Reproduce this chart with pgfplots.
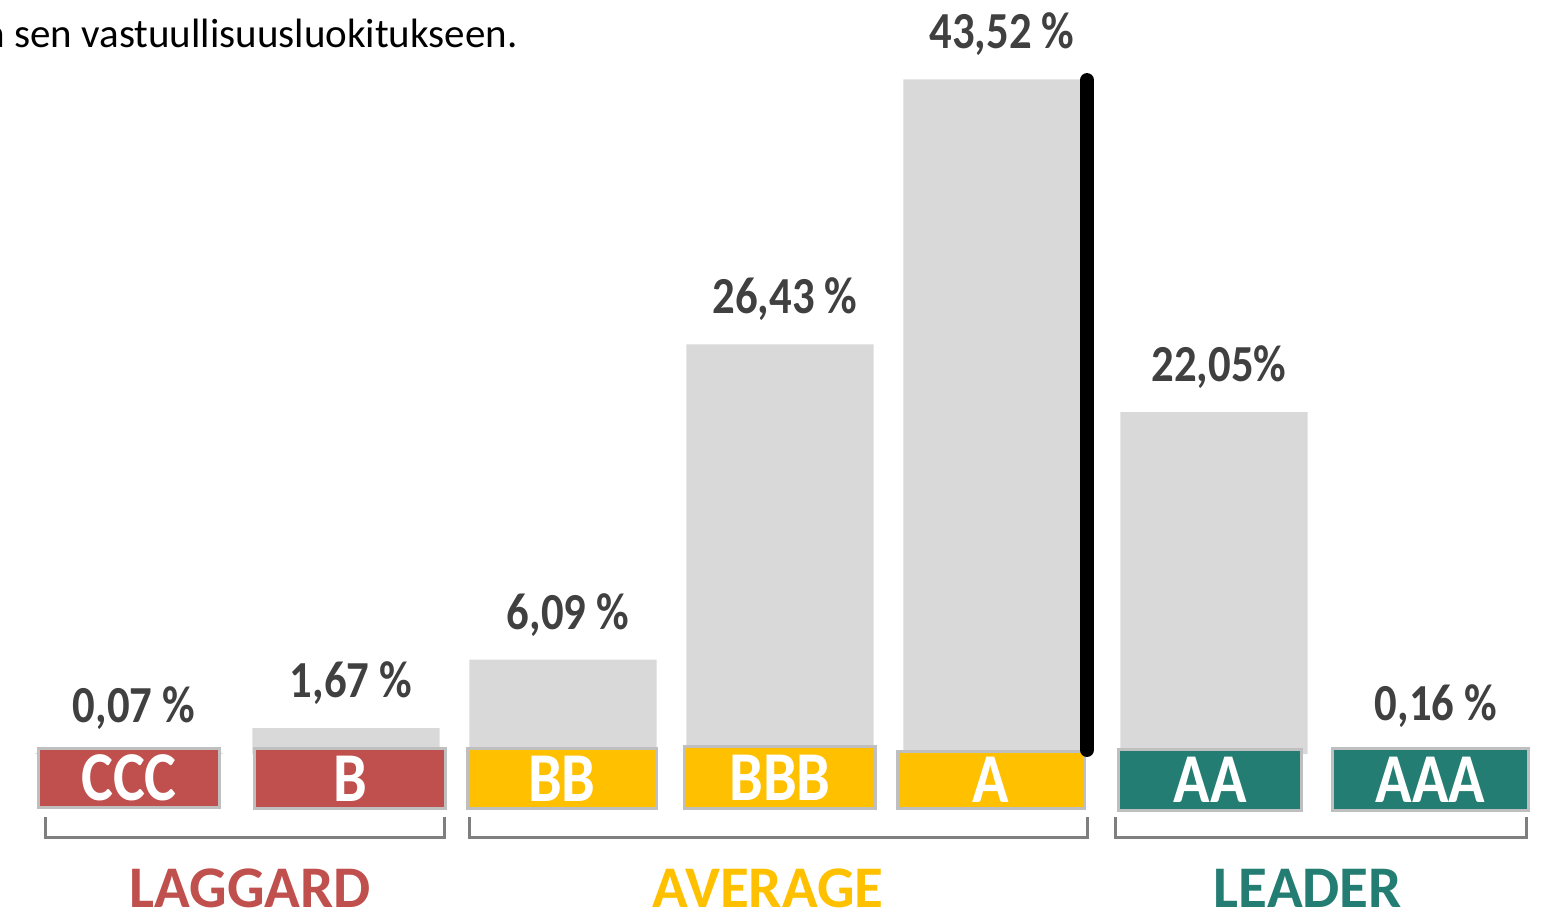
\documentclass[border=0pt]{standalone}
\usepackage{fontspec}
\setmainfont{Carlito}
\newfontfamily\condA[FakeStretch=0.86]{Carlito}
\usepackage{pgfplots}
\usepackage{pgfplotstable}
\pgfplotsset{compat=1.18}

\definecolor{bargray}{HTML}{D9D9D9}
\definecolor{lblgray}{HTML}{404040}
\definecolor{boxgray}{HTML}{BFBFBF}
\definecolor{brgray}{HTML}{7F7F7F}
\definecolor{lagred}{HTML}{C0504D}
\definecolor{avgyel}{HTML}{FFC000}
\definecolor{leadgr}{HTML}{247D72}

\tikzset{
  box/.style={draw=boxgray, line width=1.5pt, inner sep=0pt, text=white,
    font=\condA\bfseries\fontsize{35}{35}\selectfont},
  grp/.style={inner sep=1pt, font=\bfseries\fontsize{29.5}{29.5}\selectfont},
  br/.style={draw=brgray, line width=1.5pt},
}
% rating box: x, y, width, height, colour, text
\newcommand\rbox[6]{\node[box, fill=#5, minimum width=#3, minimum height=#4] at (axis cs:#1,#2) {#6};}

% share of holdings per rating class
\pgfplotstableread{
idx val lab
0 0.07 {0,07 \%}
1 1.67 {1,67 \%}
2 6.09 {6,09 \%}
3 26.43 {26,43 \%}
4 43.52 {43,52 \%}
5 22.05 {22,05\%}
6 0.16 {0,16 \%}
}\ratings

\begin{document}
\begin{tikzpicture}
\useasboundingbox (0,0) rectangle (771pt,456pt);
\begin{axis}[
  at={(0,0)}, anchor=south west,
  scale only axis, width=771pt, height=456pt,
  xmin=-0.5945, xmax=6.5115, ymin=-10.194, ymax=48.645,
  hide axis, clip=false,
  ybar, bar width=0.862,
  nodes near coords, point meta=explicit symbolic,
  every node near coord/.append style={anchor=center, yshift=22.5pt, xshift=2.5pt,
    text=lblgray, font=\condA\bfseries\fontsize{26}{26}\selectfont},
]
\addplot[fill=bargray, draw=none] table[x=idx, y=val, meta=lab] {\ratings};

\node[anchor=base east, inner sep=0pt, font=\fontsize{20.5}{20.5}\selectfont] at (axis cs:1.793,45.61) {ja sen vastuullisuusluokitukseen.};

\rbox{0}{-1.548}{90.5pt}{29.5pt}{lagred}{CCC}
\rbox{1.018}{-1.58}{95.5pt}{30pt}{lagred}{B}
\rbox{1.995}{-1.58}{94.5pt}{30pt}{avgyel}{BB}
\rbox{3}{-1.52}{95.5pt}{31pt}{avgyel}{BBB}
\rbox{3.972}{-1.677}{93.5pt}{28.5pt}{avgyel}{A}
\rbox{4.982}{-1.677}{91.5pt}{30.5pt}{leadgr}{AA}
\rbox{5.998}{-1.645}{98pt}{31pt}{leadgr}{AAA}

\draw[line width=7pt, line cap=round] (axis cs:4.415,0.26) -- (axis cs:4.415,43.48);

\draw[br] (axis cs:-0.387,-4.065) |- (axis cs:1.452,-5.419) -- (axis cs:1.452,-4.065);
\draw[br] (axis cs:1.567,-4.065) |- (axis cs:4.415,-5.419) -- (axis cs:4.415,-4.065);
\draw[br] (axis cs:4.544,-4.065) |- (axis cs:6.442,-5.419) -- (axis cs:6.442,-4.065);

\node[grp, text=lagred] at (axis cs:0.558,-8.65) {LAGGARD};
\node[grp, text=avgyel] at (axis cs:2.945,-8.65) {AVERAGE};
\node[grp, text=leadgr] at (axis cs:5.433,-8.65) {LEADER};
\end{axis}
\end{tikzpicture}
\end{document}
